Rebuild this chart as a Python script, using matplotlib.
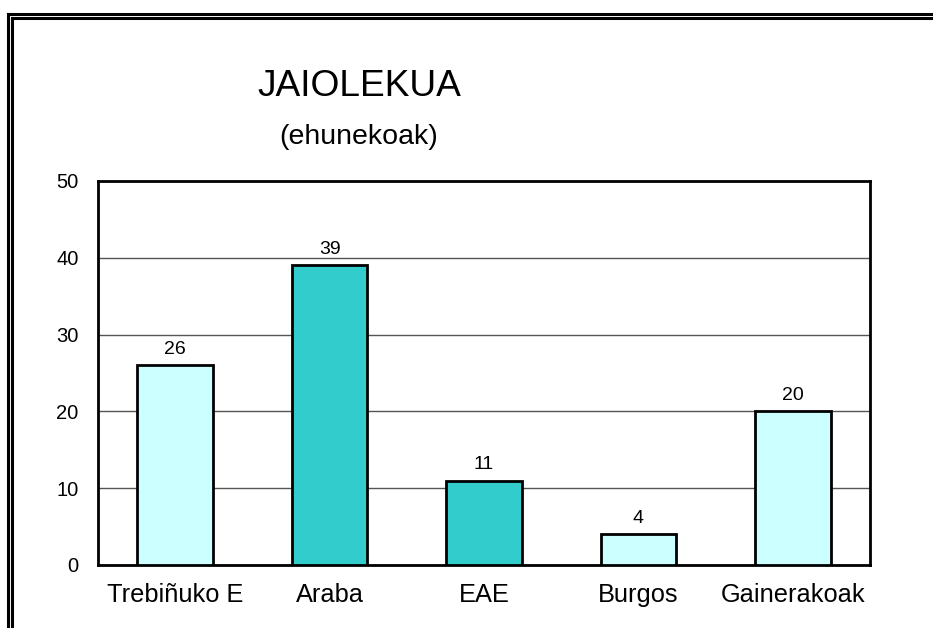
import matplotlib
matplotlib.use("Agg")
import matplotlib.pyplot as plt
from matplotlib.lines import Line2D

categories = ["Trebiñuko E", "Araba", "EAE", "Burgos", "Gainerakoak"]
values = [26, 39, 11, 4, 20]
colors = ["#CCFFFF", "#33CCCC", "#33CCCC", "#CCFFFF", "#CCFFFF"]
yticks = [0, 10, 20, 30, 40, 50]

plt.rcParams['font.family'] = ['Liberation Sans', 'DejaVu Sans']

W, H = 933, 628
fig = plt.figure(figsize=(W / 100, H / 100), dpi=100)
ax = fig.add_axes([98 / W, 1 - 565 / H, (870 - 98) / W, (565 - 181) / H])

x = range(len(categories))
ax.bar(x, values, width=0.49, color=colors, edgecolor="black", linewidth=2, zorder=3)
for xi, v in zip(x, values):
    ax.text(xi, v + 1.0, str(v), ha="center", va="bottom", fontsize=14)

ax.set_xlim(-0.5, len(categories) - 0.5)
ax.set_ylim(0, 50)
ax.set_yticks(yticks)
ax.set_yticklabels([str(t) for t in yticks], fontsize=14.5)
ax.set_xticks(list(x))
ax.set_xticklabels(categories, fontsize=18.3)
for lab in ax.get_xticklabels():
    lab.set_va("baseline")
ax.tick_params(axis="x", length=0, pad=26.6)
ax.tick_params(axis="y", length=0, pad=14)
ax.yaxis.grid(True, color="#555555", linewidth=1, zorder=0)
for s in ax.spines.values():
    s.set_linewidth(2)
    s.set_color("black")

fig.text(359 / W, 1 - 86 / H, "JAIOLEKUA", ha="center", va="center", fontsize=26.7)
fig.text(358.5 / W, 1 - 137 / H, "(ehunekoak)", ha="center", va="center", fontsize=20.5)

# double frame at top and left (right/bottom lie outside the picture)
for xo, yo in ((8, 14), (12, 18)):
    fig.add_artist(Line2D([xo / W, 1], [1 - yo / H, 1 - yo / H],
                          transform=fig.transFigure, color="black", linewidth=2.2))
    fig.add_artist(Line2D([xo / W, xo / W], [0, 1 - yo / H],
                          transform=fig.transFigure, color="black", linewidth=2.2))

fig.savefig("out.png", dpi=100)
